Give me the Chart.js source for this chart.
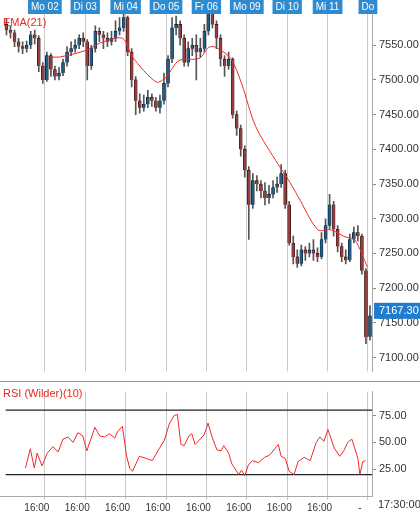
<!DOCTYPE html>
<html lang="de">
<head>
<meta charset="UTF-8">
<title>Kursverlauf mit EMA(21) und RSI</title>
<script src="https://cdn.jsdelivr.net/npm/chart.js"></script>
<style>
  body { margin: 0; background: #fff; font-family: "Liberation Sans", Arial, sans-serif; }
  #top { position: relative; width: 420px; height: 381px; }
  #bot { position: relative; width: 420px; height: 134px; border-top: 1px solid #999; }
</style>
</head>
<body>
<div id="top"><canvas id="price"></canvas></div>
<div id="bot"><canvas id="rsi"></canvas></div>
<script>
// one bar per hour-ish, 10 bars per trading day, day lines every 10 bars
const dayLabels = ['', 'Mo 02', 'Di 03', 'Mi 04', 'Do 05', 'Fr 06', 'Mo 09', 'Di 10', 'Mi 11', 'Do'];
const openFirst = 7580;
const closes = [
  7572,7568,7555,7548,7545,7550,7565,7560,7520,7500,
  7535,7515,7505,7510,7525,7540,7545,7550,7560,7555,
  7520,7545,7570,7565,7560,7555,7560,7570,7575,7590,
  7540,7500,7470,7460,7465,7475,7470,7460,7470,7495,
  7530,7575,7580,7560,7525,7545,7550,7540,7545,7570,
  7600,7580,7560,7530,7520,7530,7450,7430,7400,7370,
  7320,7355,7350,7340,7330,7335,7345,7350,7365,7320,
  7265,7245,7235,7255,7250,7255,7250,7245,7270,7290,
  7320,7285,7260,7245,7240,7270,7280,7275,7225,7130,
  7160,7167.3
];
const highs = [
  7588,7578,7572,7560,7555,7556,7570,7572,7564,7525,
  7540,7538,7520,7518,7530,7548,7555,7558,7565,7568,
  7558,7550,7578,7575,7570,7568,7570,7585,7590,7600,
  7592,7545,7505,7480,7478,7485,7480,7475,7478,7510,
  7535,7590,7592,7585,7565,7555,7560,7565,7560,7580,
  7620,7605,7585,7565,7535,7540,7532,7455,7435,7405,
  7375,7365,7362,7355,7352,7348,7355,7360,7378,7370,
  7325,7275,7255,7262,7260,7265,7270,7258,7280,7300,
  7335,7325,7290,7265,7255,7278,7288,7290,7278,7228,
  7175,7178
];
const lows = [
  7565,7560,7548,7540,7538,7540,7545,7552,7512,7495,
  7498,7505,7500,7500,7506,7520,7535,7540,7545,7548,
  7500,7515,7540,7555,7545,7548,7550,7555,7565,7570,
  7535,7490,7450,7452,7455,7460,7462,7455,7452,7465,
  7490,7525,7565,7550,7520,7520,7535,7500,7532,7540,
  7565,7575,7545,7520,7505,7515,7445,7420,7390,7360,
  7270,7315,7340,7330,7320,7322,7330,7338,7345,7315,
  7262,7235,7230,7232,7240,7245,7240,7238,7242,7265,
  7285,7275,7252,7238,7235,7238,7265,7268,7220,7120,
  7125,7155
];
const emaT = [11.8,13.7,20.4,23.6,29.2,31.7,37.6,40,43.2,48.2,50.6,52.3,56,58.7,62.2,67.8,70.3,72.7,77.6,80.8,84.3,86.7,89.9];
const emaV = [7533,7533,7543,7553,7560,7533,7497,7504,7528,7531,7547,7547,7531,7495,7433,7378,7356,7332,7284,7284,7274,7270,7230];
const rsiT = [5.2,6.4,7.4,8.1,9.3,10.6,12,13.3,14.5,15.7,17,18.2,19.4,20.4,21.1,22.4,23.6,24.8,26,27.3,28,29.2,30.2,31,31.7,33.4,35.1,36.6,38.3,39.6,40.8,42,42.8,43.7,44.5,45.7,46.4,47.2,48.2,49.4,50.1,50.4,51.4,52.6,53.6,54.3,55.5,56.3,58,58.7,59.5,60.4,61.4,62.9,64.4,65.6,67.8,68.5,69.5,70.5,71.7,72.7,74.2,75.7,77.2,78.1,79.1,80.1,81.6,83,84,85,86,86.7,87.5,88,88.7,89.4];
const rsiV = [26,44,26,40,28,40,46,41,53,55,50,59,56,42,50,64,56,55,58,54,60,65,38,26,23,37,35,33,44,52,67,75,76,48,47,56,58,48,52,57,64,68,55,43,42,47,40,30,20,24,19,29,33,31,36,38,48,37,35,23,20,32,36,33,50,55,51,62,45,37,42,50,53,45,35,20,32,33];
const rsiBands = [80, 20];
const priceTicks = [7100,7150,7200,7250,7300,7350,7400,7450,7500,7550];
const rsiTicks = [25, 50, 75];

Chart.defaults.font.family = '"Liberation Sans", Arial, sans-serif';

const opens = closes.map((c, i) => i === 0 ? openFirst : closes[i - 1]);
const bodies = closes.map((c, i) => ({ x: i + 0.5, y: [opens[i], c] }));
const wicks = closes.map((c, i) => ({ x: i + 0.5, y: [lows[i], highs[i]] }));
const bodyColors = closes.map((c, i) => c >= opens[i] ? '#1d5d8c' : '#9a3c3c');
const lastPrice = closes[closes.length - 1];
const AXIS_W = 48;
const X_MIN = -1.1, X_MAX = 91;
const dayTicks = [10,20,30,40,50,60,70,80,90];

const labelsPlugin = {
  id: 'labels',
  afterDraw(chart, args, opts) {
    const ctx = chart.ctx;
    ctx.save();
    ctx.font = '11px "Liberation Sans", Arial';
    ctx.fillStyle = '#e8271f';
    ctx.textBaseline = 'middle';
    ctx.fillText(opts.title, 3, opts.titleY);
    if (opts.last) {
      const y = chart.scales.y.getPixelForValue(lastPrice);
      const x = chart.chartArea.right;
      ctx.fillStyle = '#1f7ccf';
      ctx.fillRect(x + 2, y - 8, 420 - x - 2, 16);
      ctx.fillStyle = '#fff';
      ctx.fillText(lastPrice.toFixed(2), x + 7, y);
    }
    if (opts.time) {
      ctx.fillStyle = '#333';
      ctx.fillText('17:30:00', chart.chartArea.right + 6, chart.chartArea.bottom + 9);
    }
    ctx.restore();
  }
};

new Chart(document.getElementById('price'), {
  type: 'bar',
  data: {
    datasets: [
      { data: wicks, backgroundColor: '#555', barThickness: 1, grouped: false, order: 3 },
      { data: bodies, backgroundColor: bodyColors, borderColor: '#111', borderWidth: 0.6,
        barThickness: 3, grouped: false, order: 2 },
      { type: 'line', data: emaT.map((t, i) => ({ x: t, y: emaV[i] })), borderColor: '#f02a2a',
        borderWidth: 1, pointRadius: 0, tension: 0.3, order: 1 }
    ]
  },
  options: {
    animation: false, responsive: true, maintainAspectRatio: false,
    layout: { padding: 0 },
    plugins: { legend: { display: false }, tooltip: { enabled: false },
      labels: { title: 'EMA(21)', titleY: 23, last: true } },
    scales: {
      x: {
        type: 'linear', position: 'top', min: X_MIN, max: X_MAX, offset: false,
        afterBuildTicks: s => { s.ticks = dayTicks.map(v => ({ value: v })); },
        ticks: { autoSkip: false, maxRotation: 0, padding: 1, color: '#fff',
          font: { size: 10 }, showLabelBackdrop: true, backdropColor: '#2e8bd0',
          backdropPadding: { x: 3, y: 1 }, callback: v => dayLabels[v / 10] },
        grid: { color: '#c8c8c8', drawTicks: false, offset: false },
        border: { display: false }
      },
      y: {
        position: 'right', min: 7080, max: 7595,
        afterBuildTicks: s => { s.ticks = priceTicks.map(v => ({ value: v })); },
        afterFit: s => { s.width = AXIS_W; },
        ticks: { color: '#333', font: { size: 11 }, padding: 3, callback: v => v.toFixed(2) },
        grid: { drawOnChartArea: false, tickLength: 4, color: '#888' },
        border: { color: '#aaa' }
      }
    }
  },
  plugins: [labelsPlugin]
});

new Chart(document.getElementById('rsi'), {
  type: 'line',
  data: {
    datasets: [
      { data: rsiT.map((t, i) => ({ x: t, y: rsiV[i] })), borderColor: '#f02a2a',
        borderWidth: 1, pointRadius: 0 },
      ...rsiBands.map(b => ({ data: [{ x: 0.3, y: b }, { x: X_MAX, y: b }],
        borderColor: '#222', borderWidth: 1.2, pointRadius: 0 }))
    ]
  },
  options: {
    animation: false, responsive: true, maintainAspectRatio: false,
    layout: { padding: 0 },
    plugins: { legend: { display: false }, tooltip: { enabled: false },
      labels: { title: 'RSI (Wilder)(10)', titleY: 12, time: true } },
    scales: {
      x: {
        type: 'linear', min: X_MIN, max: X_MAX,
        afterBuildTicks: s => { s.ticks = dayTicks.map(v => ({ value: v })); },
        ticks: { autoSkip: false, maxRotation: 0, color: '#333', font: { size: 10 }, padding: 2,
          labelOffset: -8, callback: v => v === 90 ? '-' : '16:00' },
        grid: { color: '#c8c8c8', tickLength: 4 },
        border: { color: '#aaa' }
      },
      y: {
        position: 'right', min: 0, max: 97.3,
        afterBuildTicks: s => { s.ticks = rsiTicks.map(v => ({ value: v })); },
        afterFit: s => { s.width = AXIS_W; },
        ticks: { color: '#333', font: { size: 11 }, padding: 3, callback: v => v.toFixed(2) },
        grid: { drawOnChartArea: false, tickLength: 4, color: '#888' },
        border: { color: '#aaa' }
      }
    }
  },
  plugins: [labelsPlugin]
});
</script>
</body>
</html>
